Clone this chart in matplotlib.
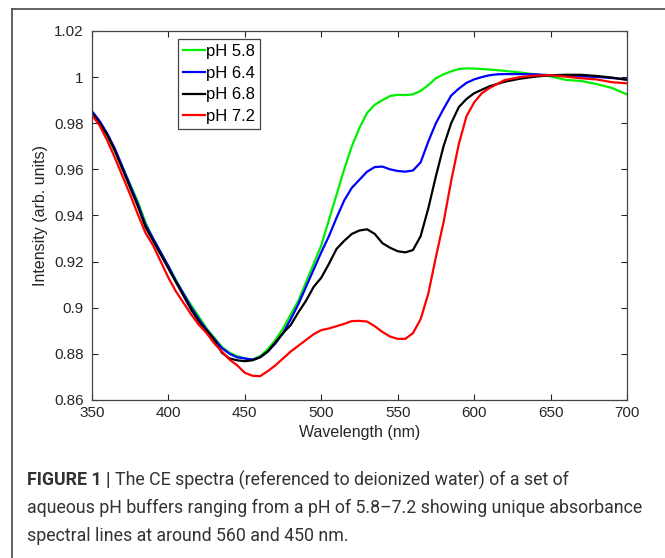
import matplotlib
matplotlib.use("Agg")
import matplotlib.pyplot as plt
from matplotlib.lines import Line2D

# wavelength grid (nm)
wavelength = [350, 355, 360, 365, 370, 375, 380, 385, 390, 395,
              400, 405, 410, 415, 420, 425, 430, 435, 440, 445,
              450, 455, 460, 465, 470, 475, 480, 485, 490, 495,
              500, 505, 510, 515, 520, 525, 530, 535, 540, 545,
              550, 555, 560, 565, 570, 575, 580, 585, 590, 595,
              600, 605, 610, 615, 620, 630, 640, 650, 660, 670,
              680, 690, 700]

ph_58 = [0.9845, 0.980, 0.9745, 0.968, 0.961, 0.9535, 0.946, 0.937, 0.930, 0.924,
         0.918, 0.912, 0.906, 0.901, 0.896, 0.891, 0.887, 0.883, 0.8805, 0.879,
         0.878, 0.8775, 0.879, 0.882, 0.886, 0.891, 0.897, 0.903, 0.911, 0.919,
         0.927, 0.938, 0.949, 0.960, 0.970, 0.978, 0.9845, 0.988, 0.990, 0.9918,
         0.9923, 0.9922, 0.9925, 0.994, 0.9965, 0.9995, 1.0012, 1.0025, 1.0035, 1.0038,
         1.0037, 1.0035, 1.0033, 1.003, 1.0027, 1.002, 1.0012, 1.0003, 0.9988, 0.9983,
         0.997, 0.9953, 0.9925]

ph_64 = [0.9852, 0.981, 0.9755, 0.969, 0.961, 0.953, 0.945, 0.936, 0.930, 0.924,
         0.918, 0.9115, 0.906, 0.900, 0.895, 0.8905, 0.8865, 0.8825, 0.880, 0.8785,
         0.878, 0.8775, 0.8785, 0.881, 0.8845, 0.889, 0.895, 0.9015, 0.909, 0.9165,
         0.924, 0.931, 0.939, 0.9465, 0.952, 0.9555, 0.959, 0.961, 0.9612, 0.960,
         0.9593, 0.959, 0.9595, 0.963, 0.972, 0.980, 0.9862, 0.992, 0.995, 0.9975,
         0.999, 1.000, 1.0008, 1.0012, 1.0013, 1.0013, 1.0012, 1.0008, 1.0005, 1.0003,
         1.0001, 0.9996, 0.999]

ph_68 = [0.9845, 0.980, 0.975, 0.968, 0.960, 0.952, 0.944, 0.935, 0.929, 0.923,
         0.917, 0.911, 0.905, 0.899, 0.894, 0.890, 0.886, 0.8805, 0.878, 0.8772,
         0.8768, 0.8772, 0.8785, 0.881, 0.885, 0.889, 0.8925, 0.898, 0.903, 0.909,
         0.913, 0.919, 0.9255, 0.929, 0.932, 0.9335, 0.934, 0.932, 0.928, 0.926,
         0.9245, 0.924, 0.925, 0.931, 0.943, 0.957, 0.970, 0.980, 0.987, 0.9905,
         0.993, 0.9945, 0.996, 0.997, 0.998, 0.9993, 1.0002, 1.0008, 1.001, 1.001,
         1.0005, 0.9998, 0.9988]

ph_72 = [0.9835, 0.979, 0.9725, 0.965, 0.957, 0.949, 0.9405, 0.9325, 0.927, 0.920,
         0.913, 0.907, 0.902, 0.897, 0.8925, 0.889, 0.8845, 0.881, 0.8775, 0.875,
         0.8718, 0.8705, 0.8703, 0.8725, 0.875, 0.878, 0.881, 0.8835, 0.886, 0.8885,
         0.8903, 0.891, 0.892, 0.893, 0.8942, 0.8943, 0.894, 0.892, 0.8895, 0.8875,
         0.8865, 0.8865, 0.889, 0.895, 0.906, 0.922, 0.937, 0.955, 0.971, 0.983,
         0.989, 0.993, 0.9952, 0.997, 0.9987, 1.000, 1.0007, 1.0008, 1.0002, 0.9995,
         0.999, 0.9978, 0.9973]

labels = ["pH 5.8", "pH 6.4", "pH 6.8", "pH 7.2"]
colors = ["#00ee00", "#0000ff", "#000000", "#ff0000"]

plt.rcParams["font.family"] = ["Liberation Sans", "DejaVu Sans"]

fig = plt.figure(figsize=(6.65, 5.58), dpi=100)
ax = fig.add_axes([0.1383, 0.2832, 0.8045, 0.6613])

for series, lab, col in zip([ph_58, ph_64, ph_68, ph_72], labels, colors):
    ax.plot(wavelength, series, color=col, linewidth=1.6, label=lab)

ax.set_xlim(350, 700)
ax.set_ylim(0.86, 1.02)
ax.set_xticks(range(350, 701, 50))
ax.set_yticks([0.86, 0.88, 0.9, 0.92, 0.94, 0.96, 0.98, 1, 1.02])
ax.set_yticklabels(["0.86", "0.88", "0.9", "0.92", "0.94", "0.96", "0.98", "1", "1.02"])
ax.tick_params(direction="in", top=True, right=True, length=4, width=0.8,
               labelsize=11, colors="#262626")
ax.tick_params(axis="x", pad=4)
ax.tick_params(axis="y", pad=6)
for s in ax.spines.values():
    s.set_color("#444444")
    s.set_linewidth(0.9)

ax.set_xlabel("Wavelength (nm)", fontsize=11.5, color="#262626", labelpad=4)
ax.set_ylabel("Intensity (arb. units)", fontsize=11.5, color="#262626", labelpad=4)

leg = ax.legend(loc="upper left", bbox_to_anchor=(0.161, 0.978), borderaxespad=0,
                fontsize=12, handlelength=1.3, handletextpad=0.05,
                labelspacing=0.4, borderpad=0.3, fancybox=False, framealpha=1)
leg.get_frame().set_edgecolor("#444444")
leg.get_frame().set_linewidth(0.9)

# outer frame of the figure panel
fig.add_artist(Line2D([12 / 665, 12 / 665], [0, 1 - 8.5 / 558],
                      transform=fig.transFigure, color="#555555", linewidth=1.3))
fig.add_artist(Line2D([12 / 665, 1], [1 - 8.5 / 558, 1 - 8.5 / 558],
                      transform=fig.transFigure, color="#555555", linewidth=1.3))

# caption
cap_x = 27 / 665
cap_size = 12.8
bold = fig.text(cap_x, 1 - 480 / 558, "FIGURE 1 |", fontsize=cap_size, fontweight="bold",
                color="#333333", va="center", family="Roboto")
fig.canvas.draw()
bb = bold.get_window_extent(fig.canvas.get_renderer())
fig.text(bb.x1 / fig.bbox.width + 4 / 665, 1 - 480 / 558,
         "The CE spectra (referenced to deionized water) of a set of",
         fontsize=cap_size, color="#333333", va="center", family="Roboto")
fig.text(cap_x, 1 - 508 / 558,
         "aqueous pH buffers ranging from a pH of 5.8\u20137.2 showing unique absorbance",
         fontsize=cap_size, color="#333333", va="center", family="Roboto")
fig.text(cap_x, 1 - 536 / 558, "spectral lines at around 560 and 450 nm.",
         fontsize=cap_size, color="#333333", va="center", family="Roboto")

fig.savefig("out.png", dpi=100)
